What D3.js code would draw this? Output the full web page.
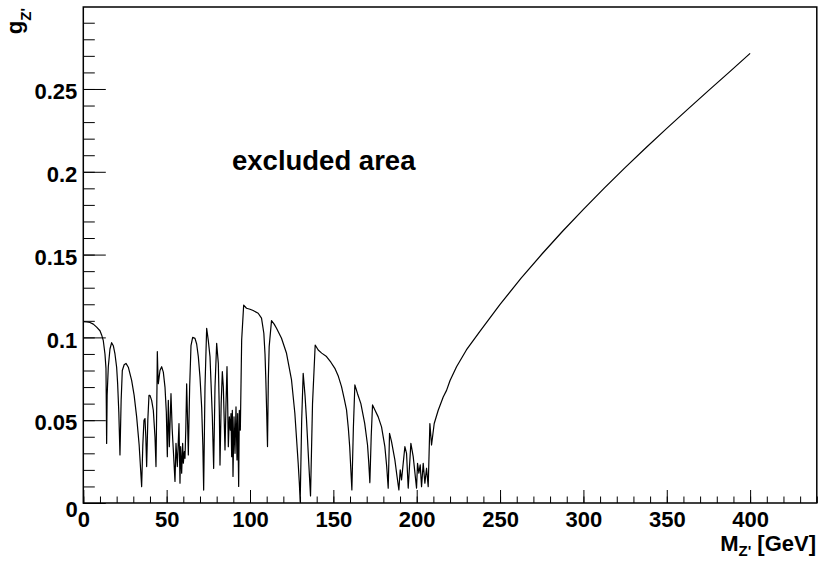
<!DOCTYPE html>
<html>
<head>
<meta charset="utf-8">
<script src="https://cdn.jsdelivr.net/npm/d3@7"></script>
<style>
body{margin:0;background:#fff;}
text{font-family:"Liberation Sans",Arial,sans-serif;font-weight:bold;fill:#000;}
</style>
</head>
<body>
<svg id="chart" width="819" height="563"></svg>
<script>
// Z' mass [GeV] and coupling limit
var mass = [0,2,4,6,8,10,11,12,13,13.6,13.8,14,14.3,15,16,17,18,19,20,20.6,21.3,22,22.7,23.4,24.5,25.6,27,29,30.5,32,33.5,35,35.7,36.4,37,37.5,38,38.7,39.4,40,41,42,43,43.6,44.2,44.4,44.7,45,46,47,48,49,49.8,50.4,51,51.6,52.6,53.3,54,55,55.6,56.4,57.4,58,58.4,59,59.6,60,60.6,61,61.5,62,62.4,63,63.8,64.6,65.6,67,68,69,70,71,71.7,72.2,73,74,75,76,77.4,78.2,79,80,81,81.6,82,82.7,83.4,84,85,85.6,86.2,86.6,87,87.6,88.2,88.6,89,89.4,89.8,90.4,91,91.6,92.2,92.6,93.2,93.6,94.2,95,96.2,97.9,100,101.9,104.9,106.9,108.3,109,109.5,110,110.5,111,111.5,112.9,114.5,115.9,118.9,121.9,124.9,126.9,128.9,129.6,130.1,131,131.9,133,133.9,135.2,136.3,137.5,139.1,140.9,143,145.9,148.5,150.9,153,154.9,156.5,157.9,159,159.8,160.5,161.1,162,162.9,164.5,166.5,168.8,170.5,171.2,171.9,172.7,173.5,175,176.9,178.9,180.9,182,182.9,183.7,184.9,186.9,188.2,189.3,190.1,190.9,192.9,193.9,194.9,196.5,197.9,199.9,200.5,201.3,202.1,202.9,203.9,204.9,205.9,206.9,207.9,208.9,210.5,212.9,215.9,217.9,220,223.9,229.8,237.8,250,262.5,275,287.5,300,312.5,325,337.5,350,362.5,375,387.5,400];
var coupling = [0.1095,0.1093,0.109,0.108,0.1062,0.104,0.1015,0.098,0.090,0.0813,0.060,0.036,0.065,0.0823,0.093,0.0968,0.095,0.090,0.082,0.072,0.055,0.029,0.062,0.080,0.0835,0.0843,0.082,0.074,0.065,0.052,0.035,0.0099,0.035,0.050,0.051,0.040,0.022,0.050,0.065,0.065,0.062,0.056,0.040,0.022,0.070,0.0914,0.080,0.072,0.080,0.0823,0.079,0.070,0.055,0.028,0.062,0.034,0.066,0.045,0.032,0.013,0.036,0.022,0.048,0.012,0.034,0.018,0.036,0.024,0.031,0.027,0.045,0.072,0.056,0.029,0.070,0.095,0.100,0.0994,0.096,0.0884,0.076,0.058,0.035,0.0078,0.070,0.1055,0.098,0.0884,0.0521,0.0209,0.070,0.0964,0.0843,0.055,0.0229,0.060,0.0793,0.070,0.032,0.060,0.0823,0.060,0.034,0.052,0.044,0.054,0.028,0.056,0.016,0.052,0.030,0.058,0.026,0.054,0.010,0.056,0.044,0.0984,0.1195,0.1176,0.117,0.1162,0.1146,0.1116,0.1025,0.090,0.0743,0.055,0.0341,0.075,0.0944,0.1101,0.108,0.1055,0.0995,0.0904,0.0743,0.0542,0.0240,0.012,0.0008,0.050,0.0783,0.065,0.0502,0.025,0.0043,0.060,0.0954,0.0924,0.0905,0.0884,0.085,0.0813,0.0765,0.0703,0.063,0.0562,0.045,0.034,0.020,0.0079,0.045,0.0713,0.066,0.060,0.0481,0.035,0.025,0.0123,0.040,0.0592,0.056,0.052,0.046,0.034,0.022,0.0089,0.042,0.037,0.026,0.016,0.0079,0.020,0.014,0.034,0.030,0.009,0.036,0.028,0.009,0.024,0.018,0.023,0.0099,0.024,0.012,0.021,0.0099,0.048,0.035,0.048,0.056,0.064,0.068,0.074,0.0823,0.0924,0.1035,0.120,0.1356,0.1502,0.1641,0.1773,0.1901,0.2025,0.2145,0.2262,0.2377,0.249,0.2602,0.2715];

var xMajor = [0,50,100,150,200,250,300,350,400];
var xMinor = d3.range(0,441,10);
var yMajor = [0,0.05,0.1,0.15,0.2,0.25];
var yMajorLabels = ["0","0.05","0.1","0.15","0.2","0.25"];
var yMinor = d3.range(0,30).map(function(i){return i/100;});

var svg = d3.select('#chart');

var x = d3.scaleLinear()
          .domain([0,440])
          .range([83.3,816.8]);

var y = d3.scaleLinear()
          .domain([0,0.2995])
          .range([503,7]);

//minor ticks
svg.append("g")
    .attr("class","axis")
    .attr("transform","translate(0,503)")
    .call(d3.axisBottom(x).tickValues(xMinor).tickSize(-6.5).tickFormat(""));
svg.append("g")
    .attr("class","axis")
    .attr("transform","translate(83.3,0)")
    .call(d3.axisLeft(y).tickValues(yMinor).tickSize(-11.5).tickFormat(""));

//major ticks + labels
var xAxis = svg.append("g")
    .attr("class","axis")
    .attr("transform","translate(0,503)")
    .call(d3.axisBottom(x).tickValues(xMajor).tickSize(-13).tickPadding(8.5).tickFormat(d3.format("d")));
var yAxis = svg.append("g")
    .attr("class","axis")
    .attr("transform","translate(83.3,0)")
    .call(d3.axisLeft(y).tickValues(yMajor).tickSize(-22.5).tickPadding(6)
          .tickFormat(function(d,i){return yMajorLabels[i];}));

svg.selectAll(".axis .domain").remove();
svg.selectAll(".axis line").attr("stroke","#000").attr("stroke-width",1);
svg.selectAll(".axis text")
    .style("font-family",'"Liberation Sans",Arial,sans-serif')
    .style("font-weight","bold")
    .style("font-size","22px");
yAxis.selectAll("text").attr("dy","0.44em");
// the 0 of the y axis sits a bit lower, as in ROOT
yAxis.selectAll(".tick").filter(function(d){return d===0;}).select("text").attr("dy","0.6em").attr("x",-5.5);

//frame
svg.append("rect")
    .attr("x",x(0))
    .attr("y",y(0.2995))
    .attr("width",x(440)-x(0))
    .attr("height",y(0)-y(0.2995))
    .attr("fill","none")
    .attr("stroke","#000")
    .attr("stroke-width",1.5);

//curve
var pts = mass.map(function(m,i){return [m,coupling[i]];});
svg.append("path")
    .datum(pts)
    .attr("fill","none")
    .attr("stroke","#000")
    .attr("stroke-width",1.2)
    .attr("stroke-linejoin","round")
    .attr("d",d3.line().x(function(d){return x(d[0]);}).y(function(d){return y(d[1]);}));

//x title
var xt = svg.append("text")
    .attr("x",816)
    .attr("y",551)
    .style("text-anchor","end")
    .style("font-size","22px");
xt.append("tspan").text("M");
xt.append("tspan").attr("dy",5).style("font-size","15px").text("Z'");
xt.append("tspan").attr("dy",-5).text(" [GeV]");

//y title
var yt = svg.append("text")
    .attr("transform","translate(22,8) rotate(-90)")
    .style("text-anchor","end")
    .style("font-size","22px");
yt.append("tspan").text("g");
yt.append("tspan").attr("dy",9).style("font-size","15px").text("Z'");

//label
svg.append("text")
    .attr("x",232)
    .attr("y",170)
    .style("font-size","27.5px")
    .text("excluded area");
</script>
</body>
</html>
